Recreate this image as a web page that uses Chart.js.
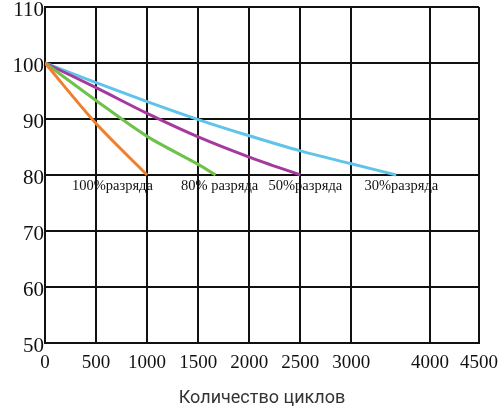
<!DOCTYPE html>
<html>
<head>
<meta charset="utf-8">
<script src="https://cdn.jsdelivr.net/npm/chart.js@4.4.0/dist/chart.umd.min.js"></script>
<style>
  html,body{ margin:0; padding:0; background:#fff; }
  #wrap{ width:502px; height:410px; }
</style>
</head>
<body>
<div id="wrap"><canvas id="chart-cycles"></canvas></div>
<script>
// cycles vs capacity (%) for each depth of discharge
const CURVE_LABELS = ['100%разряда', '80% разряда', '50%разряда', '30%разряда'];
const CURVE_COLORS = ['#F07E2C', '#6EC24A', '#A43A9D', '#5FC3EA'];

const dod100 = [ {x:0,y:100}, {x:500,y:89.2}, {x:1000,y:80} ];
const dod80  = [ {x:0,y:100}, {x:500,y:93.3}, {x:1000,y:86.9}, {x:1500,y:81.9}, {x:1670,y:80} ];
const dod50  = [ {x:0,y:100}, {x:500,y:95.6}, {x:1000,y:91.0}, {x:1500,y:86.8}, {x:2000,y:83.2}, {x:2500,y:80} ];
const dod30  = [ {x:0,y:100}, {x:500,y:96.5}, {x:1000,y:93.1}, {x:1500,y:89.9}, {x:2000,y:87.0}, {x:2500,y:84.3}, {x:3000,y:82.0}, {x:3440,y:80} ];

// the source axis squeezes 3000..4000, so the last two ticks sit at these scale values
const X_TICK_VALUES = [0, 500, 1000, 1500, 2000, 2500, 3000, 3770, 4250];
const X_TICK_LABELS = ['0', '500', '1000', '1500', '2000', '2500', '3000', '4000', '4500'];
const Y_TICKS = [50, 60, 70, 80, 90, 100, 110];

// where each curve caption sits (scale values)
const CAPTION_X = [660, 1710, 2550, 3490];
const CAPTION_Y = 78.0;

const INK = '#111';
const SERIF = "'Liberation Serif', 'DejaVu Serif', serif";

const captions = {
  id:'captions',
  afterDatasetsDraw(chart){
    const {ctx, scales:{x, y}} = chart;
    ctx.save();
    ctx.font = '14.5px ' + SERIF;
    ctx.fillStyle = INK;
    ctx.textAlign = 'center';
    ctx.textBaseline = 'middle';
    CURVE_LABELS.forEach((t,i) => ctx.fillText(t, x.getPixelForValue(CAPTION_X[i]), y.getPixelForValue(CAPTION_Y)));
    ctx.restore();
  }
};

const sets = [dod100, dod80, dod50, dod30].map((d,i) => ({
  label: CURVE_LABELS[i],
  data: d,
  borderColor: CURVE_COLORS[i],
  borderWidth: 3,
  pointRadius: 0,
  tension: .3,
  fill: false,
}));

new Chart(document.getElementById('chart-cycles'), {
  type:'line',
  data:{ datasets: sets },
  plugins:[captions],
  options:{
    responsive:true, maintainAspectRatio:false, animation:false,
    layout:{ padding:{ top:7, right:23, left:0, bottom:0 } },
    plugins:{ legend:{ display:false }, tooltip:{ enabled:false } },
    scales:{
      x:{
        type:'linear', min:0, max:4250,
        afterBuildTicks: s => { s.ticks = X_TICK_VALUES.map(v => ({ value:v })); },
        afterFit: s => { s.height = 67; s.paddingLeft = 0; s.paddingRight = 0; },
        ticks:{ autoSkip:false, maxRotation:0, padding:9, color:INK,
                font:{ family:SERIF, size:19 },
                callback: (v, i) => X_TICK_LABELS[i] },
        grid:{ color:INK, lineWidth:2, drawTicks:false },
        border:{ color:INK, width:2 },
        title:{ display:true, text:'Количество циклов', color:'#333',
                font:{ family:"Roboto, 'Noto Sans', sans-serif", size:18 },
                padding:{ top:0, bottom:1 } },
      },
      y:{
        min:50, max:110,
        afterBuildTicks: s => { s.ticks = Y_TICKS.map(v => ({ value:v })); },
        afterFit: s => { s.width = 45; s.paddingTop = 0; s.paddingBottom = 0; },
        ticks:{ padding:1, color:INK, labelOffset:3,
                font:{ family:SERIF, size:21 } },
        grid:{ color:INK, lineWidth:2, drawTicks:false },
        border:{ color:INK, width:2 },
      }
    }
  }
});
</script>
</body>
</html>
